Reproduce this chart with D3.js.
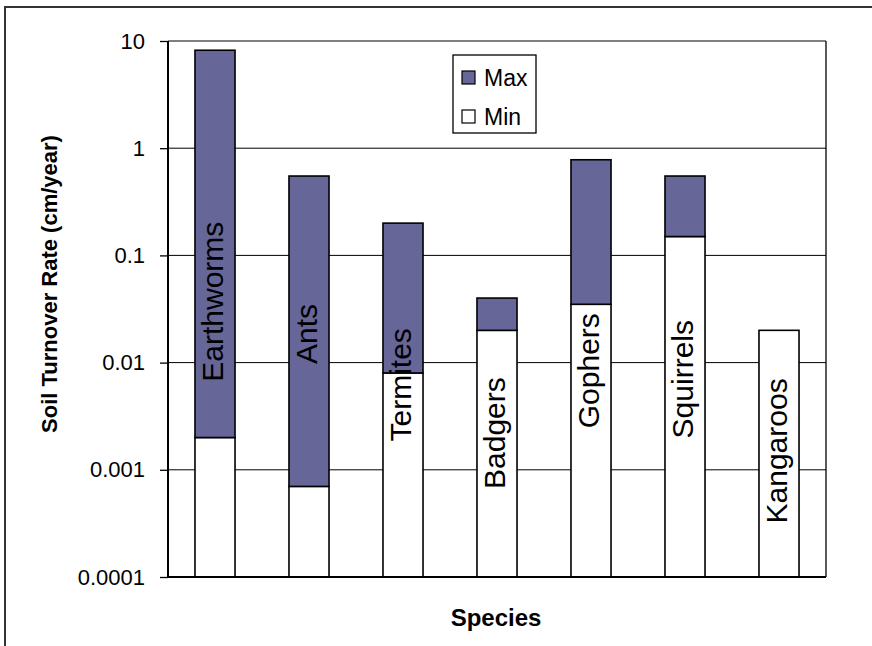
<!DOCTYPE html>
<html>
<head>
<meta charset="utf-8">
<script src="https://cdn.jsdelivr.net/npm/d3@7"></script>
<style>
  body { margin: 0; background: #fff; }
  svg { display: block; font-family: "Liberation Sans", Arial, sans-serif; }
</style>
</head>
<body>
<svg id="chart" width="872" height="646"></svg>
<script>
// data
var species = ["Earthworms", "Ants", "Termites", "Badgers", "Gophers", "Squirrels", "Kangaroos"];
var minRate = [0.002, 0.0007, 0.008, 0.02, 0.035, 0.15, 0.02];
var maxRate = [8.2, 0.55, 0.2, 0.04, 0.78, 0.55, null];
// where each species name sits along the axis (value at label centre)
var labelAt = [0.037, 0.0185, 0.0062, 0.0022, 0.0084, 0.007, 0.0015];
var yTicks = [0.0001, 0.001, 0.01, 0.1, 1, 10];
var yTickLabels = ["0.0001", "0.001", "0.01", "0.1", "1", "10"];
var seriesNames = ["Max", "Min"];

var svg = d3.select("#chart"),
    margin = {top: 41, right: 46, bottom: 69, left: 168},
    width = 872 - margin.left - margin.right,
    height = 646 - margin.top - margin.bottom;

// outer chart border
svg.append("rect")
    .attr("x", 5).attr("y", 7)
    .attr("width", 900).attr("height", 700)
    .attr("fill", "#fff")
    .attr("stroke", "#333")
    .attr("stroke-width", 2);

var g = svg.append("g").attr("transform", "translate(" + margin.left + "," + margin.top + ")");

var x = d3.scaleBand()
    .domain(species)
    .range([0, width])
    .paddingInner(0.574)
    .paddingOuter(0.287);

var y = d3.scaleLog()
    .domain([0.0001, 10])
    .range([height, 0]);

var fill = {Max: "#666699", Min: "#ffffff"};

// gridlines
g.selectAll(".grid")
    .data(yTicks)
    .enter().append("line")
      .attr("class", "grid")
      .attr("x1", 0).attr("x2", width)
      .attr("y1", function(d) { return y(d); })
      .attr("y2", function(d) { return y(d); })
      .attr("stroke", "#000")
      .attr("stroke-width", 1);

// plot frame right side
g.append("line")
    .attr("x1", width).attr("x2", width)
    .attr("y1", 0).attr("y2", height)
    .attr("stroke", "#000").attr("stroke-width", 1.3);

var rows = species.map(function(s, i) {
  return {name: s, min: minRate[i], max: maxRate[i], label: labelAt[i]};
});

// min part
g.selectAll(".bar-min")
    .data(rows)
    .enter().append("rect")
      .attr("class", "bar-min")
      .attr("x", function(d) { return x(d.name); })
      .attr("y", function(d) { return y(d.min); })
      .attr("width", x.bandwidth())
      .attr("height", function(d) { return y(0.0001) - y(d.min); })
      .attr("fill", fill.Min)
      .attr("stroke", "#000")
      .attr("stroke-width", 1.6);

// max part
g.selectAll(".bar-max")
    .data(rows.filter(function(d) { return d.max != null; }))
    .enter().append("rect")
      .attr("class", "bar-max")
      .attr("x", function(d) { return x(d.name); })
      .attr("y", function(d) { return y(d.max); })
      .attr("width", x.bandwidth())
      .attr("height", function(d) { return y(d.min) - y(d.max); })
      .attr("fill", fill.Max)
      .attr("stroke", "#000")
      .attr("stroke-width", 1.6);

// species names inside bars
g.selectAll(".name")
    .data(rows)
    .enter().append("text")
      .attr("class", "name")
      .attr("transform", function(d) {
        return "translate(" + (x(d.name) + x.bandwidth() / 2 + 8) + "," + y(d.label) + ") rotate(-90)";
      })
      .attr("text-anchor", "middle")
      .style("font-size", "30px")
      .attr("fill", "#000")
      .text(function(d) { return d.name; });

// y axis
var yAxis = g.append("g")
    .attr("class", "axis axis--y")
    .call(d3.axisLeft(y)
      .tickValues(yTicks)
      .tickFormat(function(d, i) { return yTickLabels[i]; })
      .tickSize(8)
      .tickPadding(15));
yAxis.select(".domain").attr("stroke-width", 2).attr("d", "M0,0V" + height);
yAxis.selectAll(".tick line").attr("stroke-width", 1.3);
yAxis.selectAll(".tick text")
    .style("font-size", "22px")
    .style("font-family", "'Liberation Sans', Arial, sans-serif")
    .attr("fill", "#000");

// bottom axis line
g.append("line")
    .attr("x1", 0).attr("x2", width)
    .attr("y1", height).attr("y2", height)
    .attr("stroke", "#000").attr("stroke-width", 2);

// axis titles
svg.append("text")
    .attr("transform", "translate(57," + (margin.top + height / 2 - 25) + ") rotate(-90)")
    .attr("text-anchor", "middle")
    .style("font-size", "22px")
    .style("font-weight", "bold")
    .text("Soil Turnover Rate (cm/year)");

svg.append("text")
    .attr("x", 496)
    .attr("y", 626)
    .attr("text-anchor", "middle")
    .style("font-size", "24px")
    .style("font-weight", "bold")
    .text("Species");

// legend
var legendBox = svg.append("g").attr("transform", "translate(453,55)");
legendBox.append("rect")
    .attr("width", 83).attr("height", 78)
    .attr("fill", "#fff")
    .attr("stroke", "#000")
    .attr("stroke-width", 1.3);

var legend = legendBox.selectAll(".legend")
    .data(seriesNames)
    .enter().append("g")
      .attr("class", "legend")
      .attr("transform", function(d, i) { return "translate(9," + (16 + i * 39) + ")"; });

legend.append("rect")
    .attr("width", 13)
    .attr("height", 13)
    .attr("fill", function(d) { return fill[d]; })
    .attr("stroke", "#000")
    .attr("stroke-width", 1.2);

legend.append("text")
    .attr("x", 22)
    .attr("y", 7)
    .attr("dy", "0.36em")
    .style("font-size", "23px")
    .text(function(d) { return d; });
</script>
</body>
</html>
